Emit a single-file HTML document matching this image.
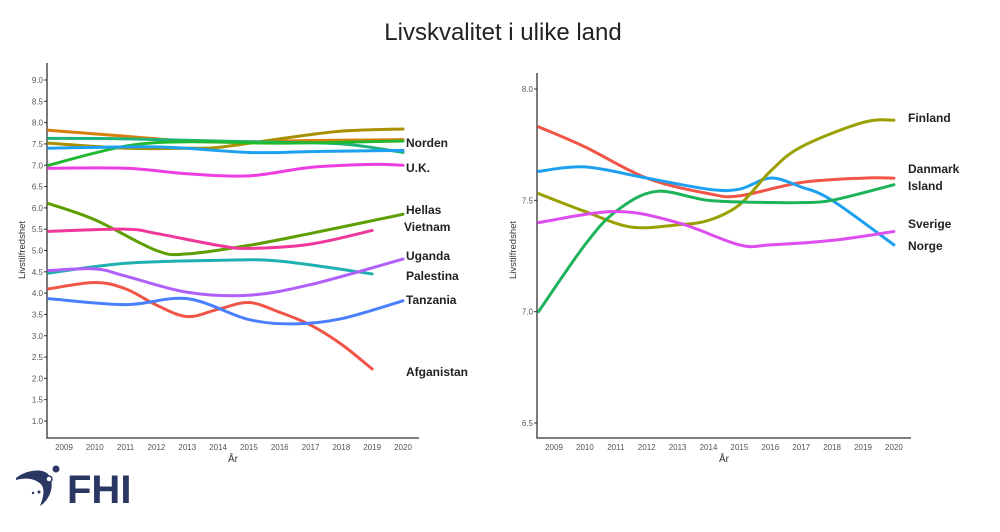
<!DOCTYPE html>
<html><head><meta charset="utf-8"><style>
body{margin:0;background:#fff;width:1000px;height:532px;overflow:hidden;font-family:"Liberation Sans",sans-serif}
svg{position:absolute;left:0;top:0}
</style></head><body>
<svg id="s" width="1000" height="532" xmlns="http://www.w3.org/2000/svg">
<text x="503" y="40" text-anchor="middle" font-size="24" fill="#222">Livskvalitet i ulike land</text>
<g stroke="#333" stroke-width="1.3" fill="none">
<path d="M47 63V438H419"/><path d="M537 73V438H911"/>
</g>
<g id="L"></g>
<g font-size="8" fill="#555" id="T"></g>
<text x="233" y="462" font-size="10" fill="#333" text-anchor="middle">År</text>
<text x="724" y="462" font-size="10" fill="#333" text-anchor="middle">År</text>
<text transform="translate(25 250) rotate(-90)" font-size="9.5" fill="#333" text-anchor="middle">Livstilfredshet</text>
<text transform="translate(516 250) rotate(-90)" font-size="9.5" fill="#333" text-anchor="middle">Livstilfredshet</text>
<g font-size="12" fill="#222" font-weight="bold">
<text x="406" y="147">Norden</text><text x="406" y="172">U.K.</text><text x="406" y="214">Hellas</text>
<text x="404" y="231">Vietnam</text><text x="406" y="260">Uganda</text><text x="406" y="280">Palestina</text>
<text x="406" y="304">Tanzania</text><text x="406" y="376">Afganistan</text>
<text x="908" y="122">Finland</text><text x="908" y="173">Danmark</text><text x="908" y="190">Island</text>
<text x="908" y="228">Sverige</text><text x="908" y="250">Norge</text>
</g>
<g transform="translate(14 466)" fill="#2b3763">
<path d="M2 12 C12 4 28 2 34 8 C42 18 36 34 26 40 C30 30 32 20 24 16 C18 12 10 12 2 14Z"/>
<circle cx="42" cy="3" r="3.5"/><circle cx="35" cy="13" r="3" fill="#fff" stroke="#2b3763" stroke-width="1.5"/>
<circle cx="25" cy="26" r="1.5"/><circle cx="19" cy="27" r="1.2"/>
<text x="53" y="37" font-size="40" font-weight="bold" font-family="Liberation Sans,sans-serif">FHI</text>
</g>
</svg>
<script>
const NS="http://www.w3.org/2000/svg",L=document.getElementById('L'),T=document.getElementById('T');
function el(t,a,p,txt){const e=document.createElementNS(NS,t);for(const k in a)e.setAttribute(k,a[k]);if(txt)e.textContent=txt;p.appendChild(e);}
const lx=y=>64+(y-2009)*30.82, ly=v=>421-(v-1)*42.625;
const rx=y=>554+(y-2009)*30.9, ry=v=>89+(8-v)*222.67;
for(let v=1;v<=9.01;v+=0.5){el('text',{x:43,y:ly(v)+3,'text-anchor':'end'},T,v.toFixed(1));el('line',{x1:44,x2:47,y1:ly(v),y2:ly(v),stroke:'#333'},T);}
for(let v=6.5;v<=8.01;v+=0.5){el('text',{x:533,y:ry(v)+3,'text-anchor':'end'},T,v.toFixed(1));el('line',{x1:534,x2:537,y1:ry(v),y2:ry(v),stroke:'#333'},T);}
for(let y=2009;y<=2020;y++){el('text',{x:lx(y),y:450,'text-anchor':'middle'},T,y);el('text',{x:rx(y),y:450,'text-anchor':'middle'},T,y);}
function path(pts){let d='M'+pts[0].join(' ');for(let i=0;i<pts.length-1;i++){const p0=pts[i-1]||pts[i],p1=pts[i],p2=pts[i+1],p3=pts[i+2]||p2;
d+=` C${p1[0]+(p2[0]-p0[0])/6} ${p1[1]+(p2[1]-p0[1])/6} ${p2[0]-(p3[0]-p1[0])/6} ${p2[1]-(p3[1]-p1[1])/6} ${p2[0]} ${p2[1]}`;}return d;}
function s(fx,fy,c,arr){const pts=[];for(let i=0;i<arr.length;i+=2)pts.push([fx(arr[i]),fy(arr[i+1])]);el('path',{d:path(pts),stroke:c,'stroke-width':3,fill:'none','stroke-linecap':'round'},L);}
const A=2008.5;
s(lx,ly,'#d97f0a',[A,7.82,2011,7.68,2013,7.57,2015,7.55,2017,7.58,2020,7.6]);
s(lx,ly,'#a89000',[A,7.52,2011,7.4,2013,7.4,2014,7.42,2016,7.62,2018,7.8,2020,7.85]);
s(lx,ly,'#1db37a',[A,7.63,2011,7.62,2015,7.55,2018,7.5,2020,7.3]);
s(lx,ly,'#22b830',[A,7.0,2011,7.45,2013,7.55,2016,7.52,2020,7.57]);
s(lx,ly,'#1ea0f0',[A,7.4,2012,7.43,2015,7.3,2017,7.32,2020,7.35]);
s(lx,ly,'#ee3de0',[A,6.93,2011,6.93,2013,6.8,2015,6.75,2017,6.95,2019,7.02,2020,7.0]);
s(lx,ly,'#5d9e00',[A,6.1,2010,5.72,2012,5.0,2013,4.92,2015,5.12,2017,5.4,2020,5.85]);
s(lx,ly,'#f0389a',[A,5.45,2011,5.5,2012,5.4,2014,5.12,2015,5.05,2017,5.15,2019,5.47]);
s(lx,ly,'#20b0b0',[A,4.47,2011,4.7,2014,4.77,2016,4.75,2019,4.45]);
s(lx,ly,'#b060f8',[A,4.53,2010,4.57,2011,4.4,2013,4.02,2015,3.95,2017,4.2,2020,4.8]);
s(lx,ly,'#f05548',[A,4.1,2010,4.25,2011,4.1,2012,3.72,2013,3.45,2014,3.62,2015,3.78,2016,3.55,2017,3.25,2018,2.8,2019,2.22]);
s(lx,ly,'#4a7fff',[A,3.87,2011,3.73,2013,3.87,2015,3.38,2016.5,3.28,2018,3.4,2020,3.82]);
s(rx,ry,'#f05548',[A,7.83,2010,7.74,2012,7.6,2014,7.53,2015,7.52,2017,7.58,2019,7.6,2020,7.6]);
s(rx,ry,'#1ea0f0',[A,7.63,2010,7.65,2012,7.6,2014,7.55,2015,7.55,2016,7.6,2017,7.56,2018,7.5,2020,7.3]);
s(rx,ry,'#99a000',[A,7.53,2010,7.45,2011.5,7.38,2013,7.39,2014,7.41,2015,7.48,2016,7.63,2017,7.74,2019,7.85,2020,7.86]);
s(rx,ry,'#1db35a',[A,7.0,2010,7.3,2011,7.45,2012.3,7.54,2014,7.5,2016,7.49,2017,7.49,2018,7.5,2020,7.57]);
s(rx,ry,'#de4df0',[A,7.4,2011,7.45,2013,7.4,2015,7.3,2016,7.3,2018,7.32,2020,7.36]);
</script>
</body></html>
